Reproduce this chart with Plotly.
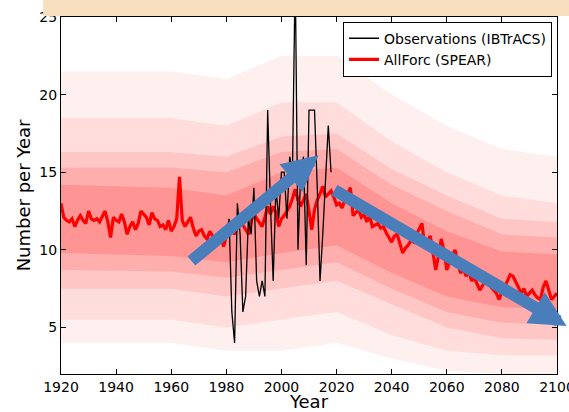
import plotly.graph_objects as go

# ---------------- data ----------------
mean_years = list(range(1920, 2101))
mean_vals = [
    13.0, 12.1, 11.9, 11.8, 12.0, 11.5, 11.9, 12.2, 11.9, 11.7,   # 1920s
    12.5, 12.0, 11.9, 12.0, 11.8, 12.2, 12.5, 11.8, 10.8, 12.1,   # 1930s
    11.9, 11.8, 12.3, 11.8, 11.0, 11.5, 11.8, 11.3, 11.7, 12.5,   # 1940s
    12.3, 12.1, 11.6, 12.4, 12.0, 11.9, 11.5, 11.6, 11.3, 11.9,   # 1950s
    11.2, 11.5, 12.0, 14.7, 11.9, 11.5, 11.8, 12.1, 11.4, 10.9,   # 1960s
    11.2, 11.3, 10.9, 10.7, 11.2, 10.9, 10.6, 11.0, 11.0, 10.2,   # 1970s
    10.9, 11.2, 11.3, 11.0, 11.5, 11.9, 11.6, 11.3, 11.0, 11.8,   # 1980s
    12.4, 12.0, 11.7, 11.5, 12.1, 12.8, 12.3, 12.8, 12.4, 11.5,   # 1990s
    12.0, 12.2, 12.5, 12.8, 13.3, 13.9, 13.2, 12.8, 13.2, 13.6,   # 2000s
    12.5, 11.3, 12.6, 13.2, 13.6, 14.1, 13.4, 13.6, 13.8, 13.4,   # 2010s
    12.9, 13.0, 12.7, 13.2, 13.6, 14.0, 12.2, 12.4, 12.6, 12.1,   # 2020s
    12.3, 11.8, 12.2, 11.5, 11.6, 11.7, 11.4, 11.5, 11.1, 10.8,   # 2030s
    10.5, 10.9, 11.0, 10.4, 9.8, 10.1, 10.3, 10.6, 10.5, 11.0,    # 2040s
    11.4, 11.7, 10.2, 10.6, 10.9, 9.8, 8.7, 9.6, 10.7, 9.9,       # 2050s
    8.7, 9.2, 9.6, 10.0, 9.1, 8.5, 8.8, 8.3, 8.6, 8.0,            # 2060s
    8.2, 7.8, 7.4, 7.7, 8.0, 7.8, 7.6, 7.4, 7.2, 6.8,             # 2070s
    7.3, 7.6, 8.0, 8.4, 8.3, 8.0, 7.6, 7.2, 7.5, 7.0,             # 2080s
    7.2, 7.4, 7.1, 6.9, 6.8, 7.6, 8.0, 7.4, 6.8, 7.0,             # 2090s
    7.2,                                                          # 2100
]

obs_years = list(range(1980, 2019))
obs_vals = [
    11, 12, 6, 4, 13, 11, 6, 7, 12, 11,
    14, 8, 7, 8, 7, 19, 13, 8, 14, 12,
    15, 15, 12, 16, 15, 28, 10, 15, 16, 9,
    19, 19, 19, 14, 8, 11, 15, 18, 15,
]

# ensemble spread (nested envelopes of the SPEAR members)
band_years = [1920, 1960, 1980, 2000, 2020, 2040, 2060, 2080, 2100]
band1_lo = [4.0, 4.0, 3.5, 3.5, 4.0, 3.0, 2.2, 2.0, 2.0]
band1_hi = [21.5, 21.5, 21.0, 22.5, 22.5, 20.0, 18.0, 16.5, 16.0]
band2_lo = [5.5, 5.5, 5.0, 5.5, 6.0, 4.5, 3.5, 3.2, 3.2]
band2_hi = [18.5, 18.5, 18.0, 19.5, 19.5, 17.0, 15.0, 13.5, 13.0]
band3_lo = [7.5, 7.5, 7.0, 7.5, 8.0, 6.5, 5.0, 4.3, 4.2]
band3_hi = [16.3, 16.3, 16.0, 17.3, 17.5, 15.2, 13.5, 12.0, 11.8]
band4_lo = [8.7, 8.6, 8.2, 8.7, 9.2, 7.5, 6.0, 5.3, 5.2]
band4_hi = [15.3, 15.3, 15.0, 16.3, 16.5, 14.2, 12.5, 11.0, 10.8]
band5_lo = [9.8, 9.6, 9.2, 9.8, 10.3, 8.5, 7.0, 6.3, 6.2]
band5_hi = [14.2, 14.0, 13.5, 15.0, 15.3, 13.0, 11.2, 9.9, 9.7]

x_ticks = [1920, 1940, 1960, 1980, 2000, 2020, 2040, 2060, 2080, 2100]
y_ticks = [5, 10, 15, 20, 25]

# trend arrows (tail -> head) in data units
arrow1_tail = (1966.8, 9.2)
arrow1_head = (2013.5, 16.1)
arrow2_tail = (2018.7, 13.9)
arrow2_head = (2103.5, 5.1)

# ---------------- figure ----------------
fig = go.Figure()

band_alphas = [0.06, 0.08, 0.10, 0.12, 0.15]
bands = [(band1_lo, band1_hi), (band2_lo, band2_hi), (band3_lo, band3_hi),
         (band4_lo, band4_hi), (band5_lo, band5_hi)]
for (lo, hi), a in zip(bands, band_alphas):
    c = f"rgba(255,0,0,{a})"
    fig.add_trace(go.Scatter(x=band_years, y=lo, mode="lines",
                             line=dict(width=0, color=c),
                             showlegend=False, hoverinfo="skip"))
    fig.add_trace(go.Scatter(x=band_years, y=hi, mode="lines",
                             line=dict(width=0, color=c),
                             fill="tonexty", fillcolor=c,
                             showlegend=False, hoverinfo="skip"))

fig.add_trace(go.Scatter(x=mean_years, y=mean_vals, mode="lines",
                         name="AllForc (SPEAR)", legendrank=2,
                         line=dict(color="#ff0000", width=3.2)))
fig.add_trace(go.Scatter(x=obs_years, y=obs_vals, mode="lines",
                         name="Observations (IBTrACS)", legendrank=1,
                         line=dict(color="black", width=1.3)))

arrow_color = "#4a7ebb"
for tail, head in [(arrow1_tail, arrow1_head), (arrow2_tail, arrow2_head)]:
    fig.add_annotation(x=head[0], y=head[1], ax=tail[0], ay=tail[1],
                       xref="x", yref="y", axref="x", ayref="y",
                       text="", showarrow=True, arrowhead=2,
                       arrowwidth=12, arrowsize=0.6, arrowcolor=arrow_color)

# cut-off title banner at the top
fig.add_shape(type="rect", xref="paper", yref="paper",
              x0=-0.036, x1=1.03, y0=1.003, y1=1.06,
              fillcolor="rgb(248,223,192)", line=dict(width=0), layer="above")

axis_common = dict(showline=True, linecolor="black", linewidth=1, mirror="ticks",
                   ticks="inside", ticklen=5, tickcolor="black", showgrid=False,
                   zeroline=False, automargin=False, ticklabeloverflow="allow",
                   tickfont=dict(size=14, color="black"))

fig.update_layout(
    width=569, height=412,
    margin=dict(l=61, r=12, t=17, b=38),
    paper_bgcolor="white", plot_bgcolor="white",
    font=dict(family="DejaVu Sans", color="black"),
    xaxis=dict(range=[1920, 2100], tickvals=x_ticks,
               title=dict(text="Year", font=dict(size=18), standoff=3),
               **axis_common),
    yaxis=dict(range=[2, 25], tickvals=y_ticks,
               title=dict(text="Number per Year", font=dict(size=18), standoff=4),
               **axis_common),
    legend=dict(x=0.99, y=0.987, xanchor="right", yanchor="top",
                bgcolor="white", bordercolor="black", borderwidth=1,
                font=dict(size=14), itemwidth=30, tracegroupgap=0,
                traceorder="normal"),
    showlegend=True,
)

fig.write_html("out.html", config={"displayModeBar": False},
               post_script="document.body.style.margin='0';document.body.style.overflow='hidden';")
